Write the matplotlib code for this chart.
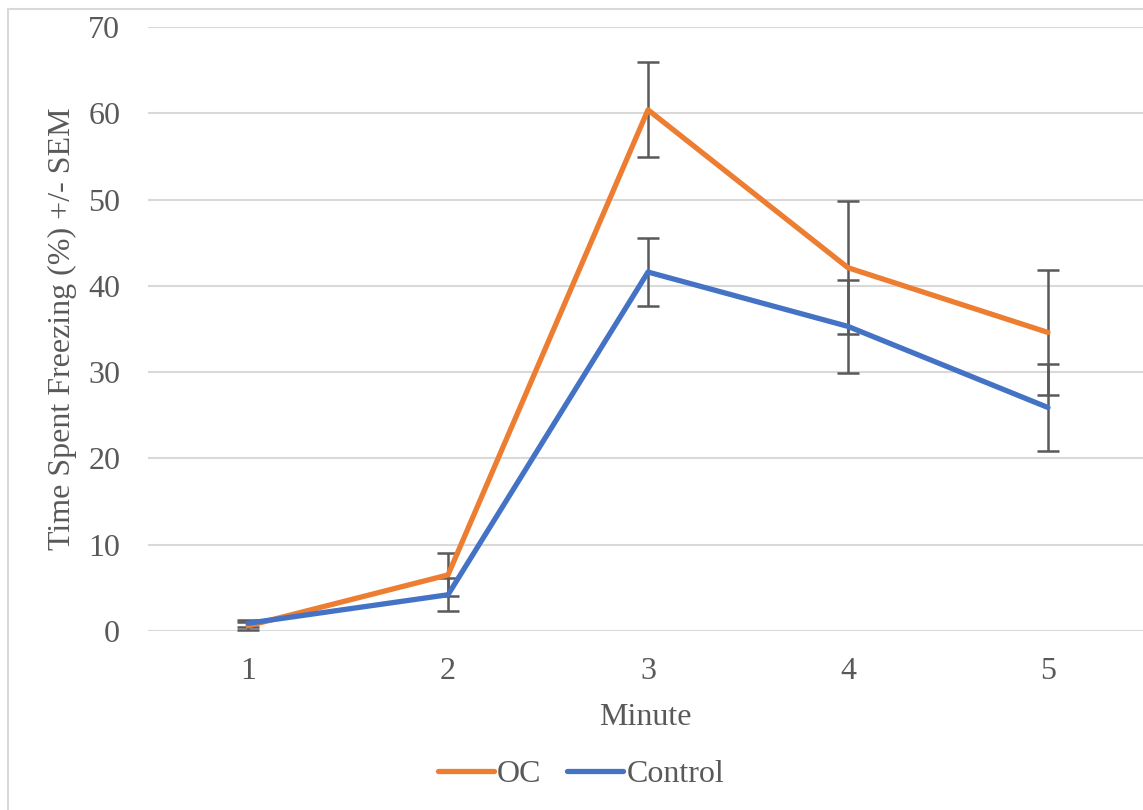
import matplotlib.pyplot as plt
from matplotlib.patches import Rectangle

minutes = [1, 2, 3, 4, 5]
oc = [0.6, 6.5, 60.4, 42.1, 34.6]
oc_sem = [0.5, 2.5, 5.5, 7.7, 7.2]
control = [0.9, 4.2, 41.6, 35.3, 25.9]
control_sem = [0.4, 1.9, 3.9, 5.4, 5.0]

plt.rcParams['font.family'] = ['Liberation Serif', 'DejaVu Serif']
txt = '#595959'

fig = plt.figure(figsize=(11.43, 8.10), dpi=100)
W, H = 1143, 810
fig.patches.append(Rectangle((8 / W, -0.1), 1.2, (810 - 9) / H + 0.1,
                             transform=fig.transFigure, fill=False,
                             edgecolor='#d9d9d9', linewidth=1.5))

ax = fig.add_axes([148 / W, 179 / H, 995 / W, 604 / H])
ax.set_xlim(0.5, 0.5 + 995 / 200)
ax.set_ylim(0, 70)
ax.set_yticks(range(0, 71, 10))
ax.set_xticks(minutes)
ax.grid(axis='y', color='#d9d9d9', linewidth=1.5)
ax.set_axisbelow(True)
for s in ax.spines.values():
    s.set_visible(False)
ax.tick_params(length=0, labelsize=23, labelcolor=txt)
ax.tick_params(axis='y', pad=20)
ax.tick_params(axis='x', pad=19)

ax.errorbar(minutes, oc, yerr=oc_sem, color='#ED7D31', linewidth=3.8,
            ecolor='#595959', elinewidth=1.8, capsize=8, capthick=1.8,
            label='OC', solid_capstyle='round')
ax.errorbar(minutes, control, yerr=control_sem, color='#4472C4', linewidth=3.8,
            ecolor='#595959', elinewidth=1.8, capsize=8, capthick=1.8,
            label='Control', solid_capstyle='round')

ax.set_xlabel('Minute', fontsize=23, color=txt, labelpad=12)
ax.set_ylabel('Time Spent Freezing (%) +/- SEM', fontsize=23, color=txt)
ax.yaxis.set_label_coords(-(148 - 77) / 995, 0.5)

h, l = ax.get_legend_handles_labels()
h = [x[0] for x in h]
ax.legend(h, l, loc='center', bbox_to_anchor=(581 / W, 1 - 774 / H),
          bbox_transform=fig.transFigure, ncol=2, frameon=False, fontsize=23,
          labelcolor=txt, handlelength=1.75, handletextpad=0.1, columnspacing=0.8)

fig.savefig('out.png', dpi=100)
